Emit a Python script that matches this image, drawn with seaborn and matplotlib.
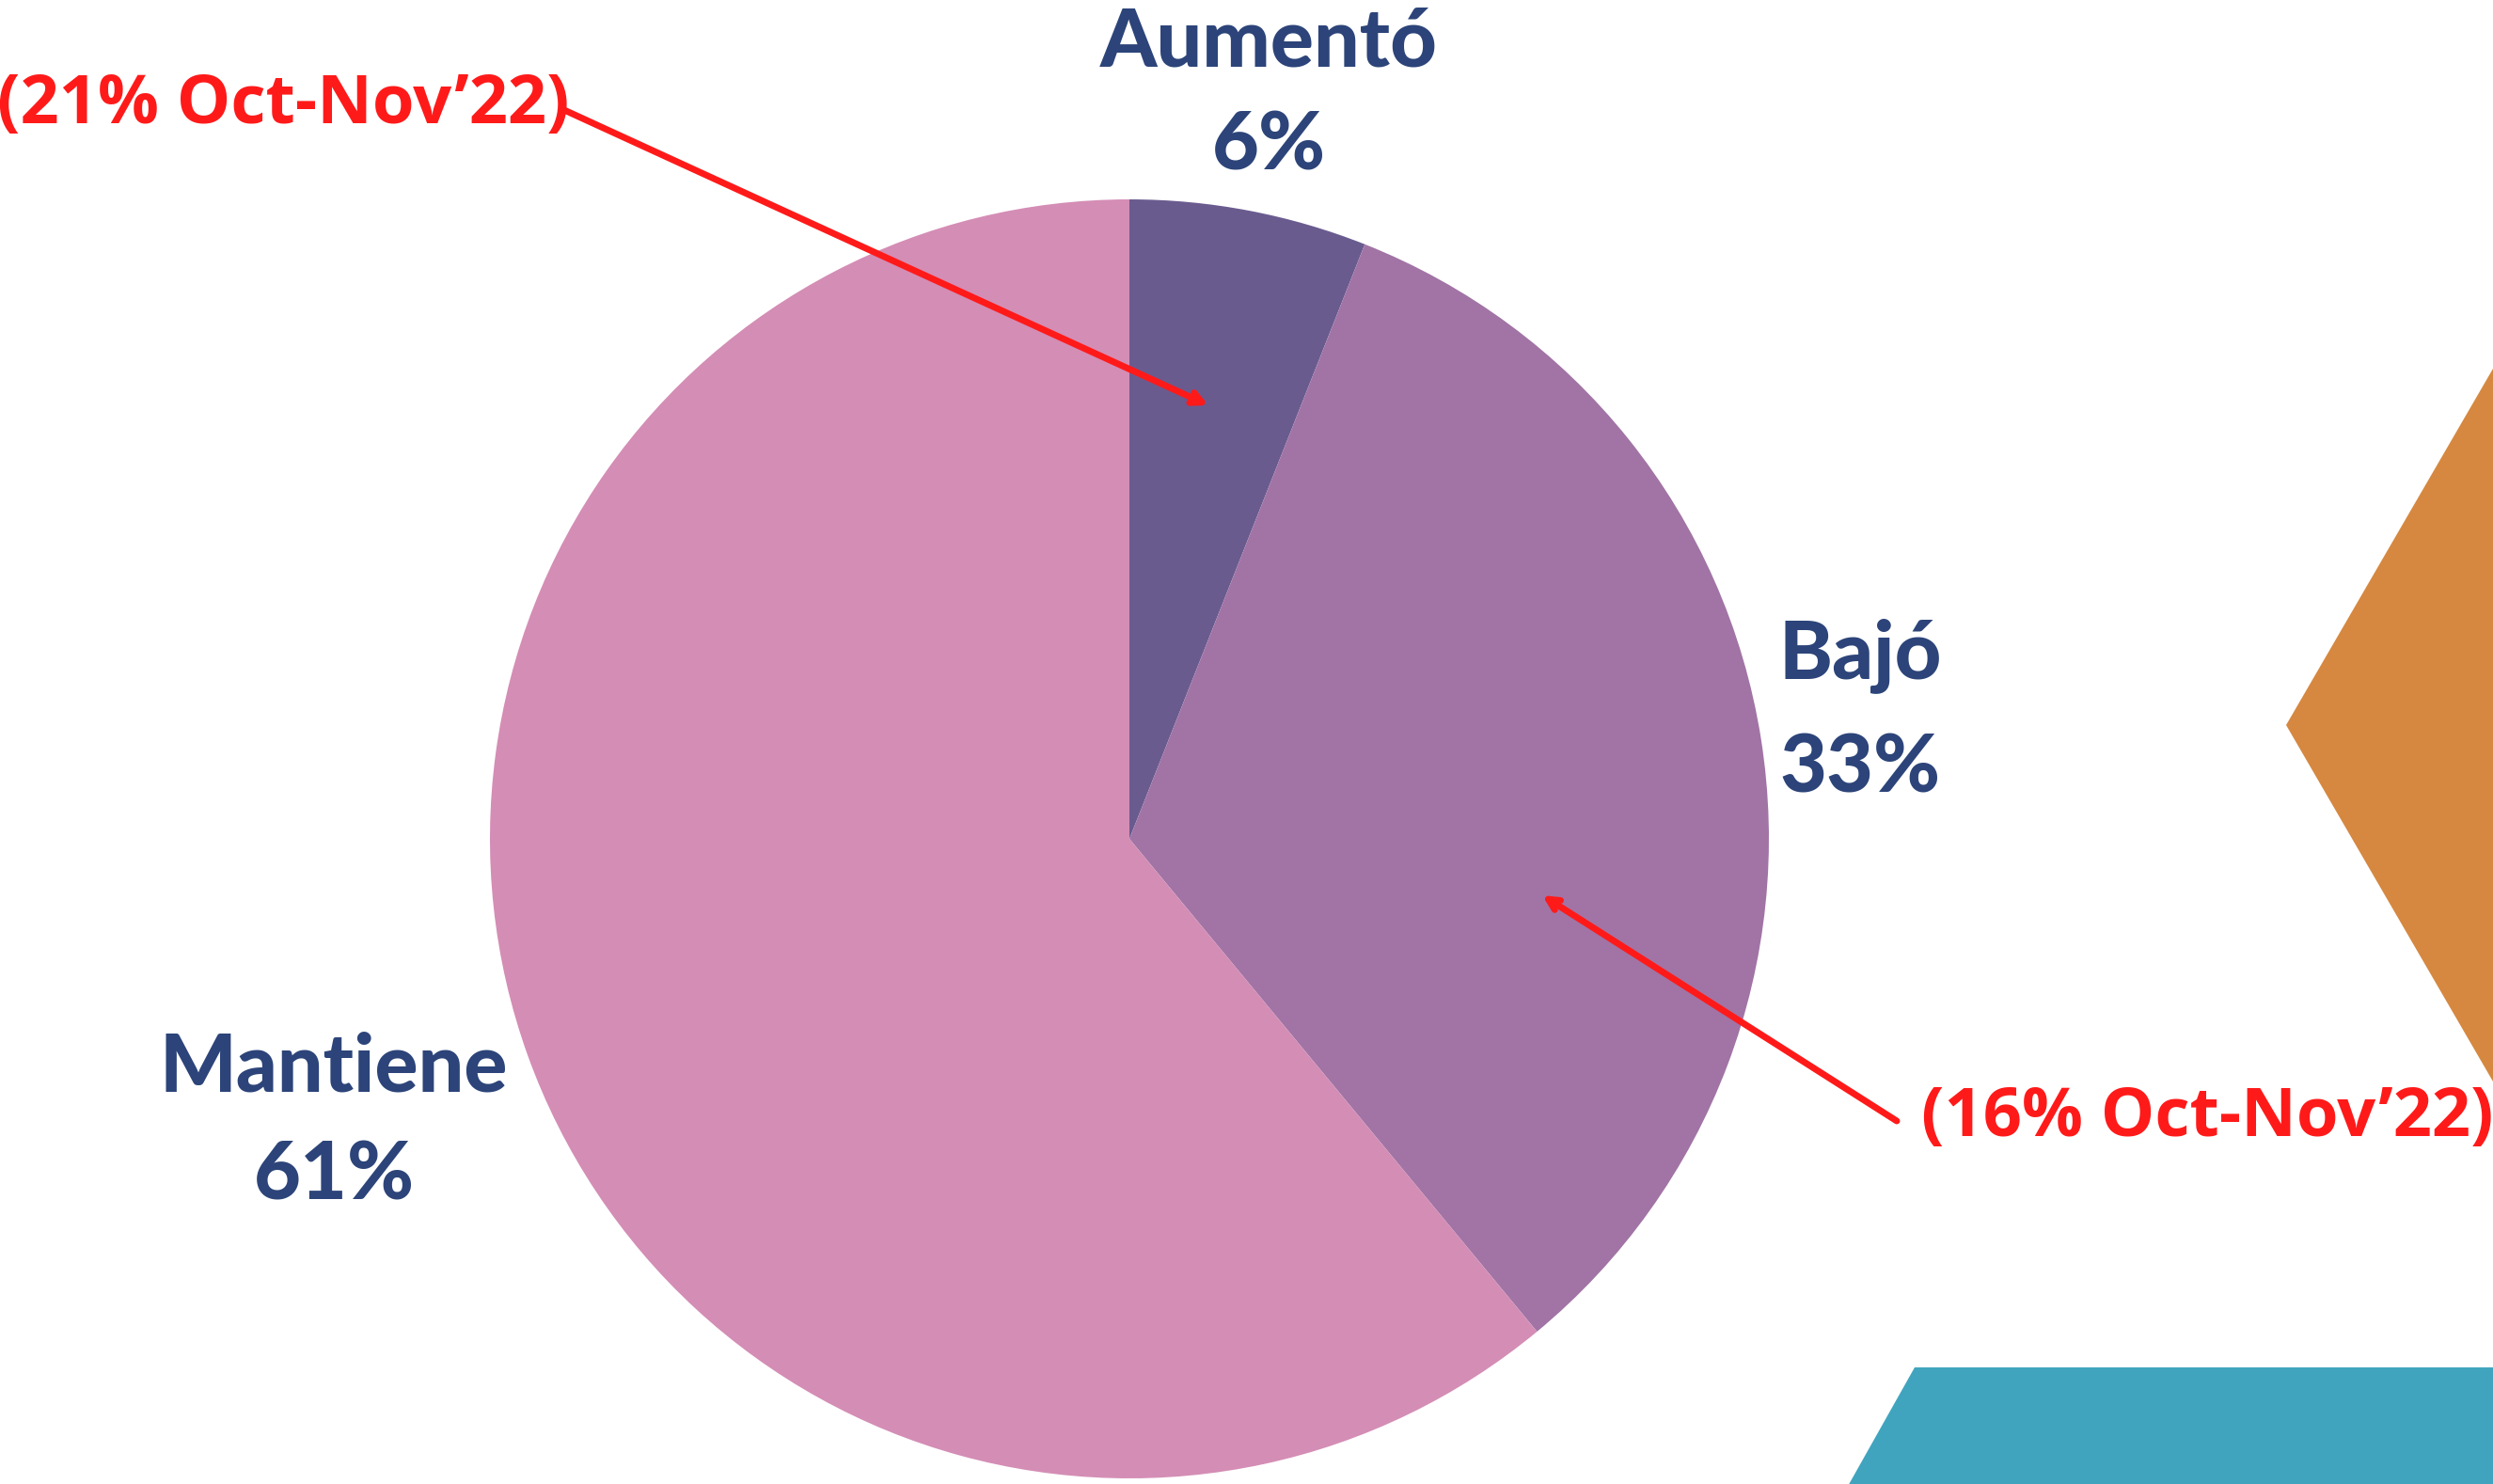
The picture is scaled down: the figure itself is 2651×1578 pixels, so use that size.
import numpy as np
import matplotlib
matplotlib.use("Agg")
import matplotlib.pyplot as plt
import seaborn as sns
from matplotlib.patches import Polygon

# datos del grafico
categorias = ["Aumentó", "Bajó", "Mantiene"]
valores = [6, 33, 61]
previo = ["(21% Oct-Nov’22)", "(16% Oct-Nov’22)"]

sns.set_theme(style="white")
plt.rcParams["font.family"] = ["Open Sans", "DejaVu Sans"]

colores = ["#6A5B8F", "#A174A5", "#D48DB5"]
azul = "#2C4479"
rojo = "#FF1A1A"

W, H = 2651, 1578
fig = plt.figure(figsize=(W / 100, H / 100), dpi=100)
ax = fig.add_axes([0, 0, 1, 1])
ax.set_xlim(0, W)
ax.set_ylim(0, H)
ax.set_aspect("equal")
ax.axis("off")

# formas decorativas
ax.add_patch(Polygon([(2651, H - 392), (2431, H - 771), (2651, H - 1150), (2700, H - 1150), (2700, H - 392)],
                     closed=True, color="#D68840", lw=0))
ax.add_patch(Polygon([(2036, H - 1454), (2700, H - 1454), (2700, -20), (1955, -20)],
                     closed=True, color="#40A4BE", lw=0))

ax.pie(valores, colors=colores, startangle=90, counterclock=False,
       center=(1201, H - 892), radius=680, wedgeprops=dict(linewidth=0))
ax.set_xlim(0, W)
ax.set_ylim(0, H)

# etiquetas
fuente = dict(family=["Lato", "DejaVu Sans"], fontweight="black")
pos = [(1349, 46, 156), (1978, 697, 818), (355, 1136, 1251)]
for cat, v, (x, y1, y2) in zip(categorias, valores, pos):
    ax.text(x, H - y1, cat, color=azul, fontsize=62, ha="center", va="center", **fuente)
    ax.text(x, H - y2, f"{v}%", color=azul, fontsize=62, ha="center", va="center", **fuente)

ax.text(301, H - 112, previo[0], color=rojo, fontsize=52, fontweight="bold", ha="center", va="center")
ax.text(2347, H - 1189, previo[1], color=rojo, fontsize=52, fontweight="bold", ha="center", va="center")

flecha = dict(arrowstyle="->,head_length=0.7,head_width=0.35", color=rojo, lw=5, shrinkA=0, shrinkB=0)
ax.annotate("", xy=(1285, H - 431), xytext=(600, H - 117), arrowprops=flecha)
ax.annotate("", xy=(1640, H - 952), xytext=(2017, H - 1192), arrowprops=flecha)

fig.savefig("out.png", dpi=100, facecolor="white")
